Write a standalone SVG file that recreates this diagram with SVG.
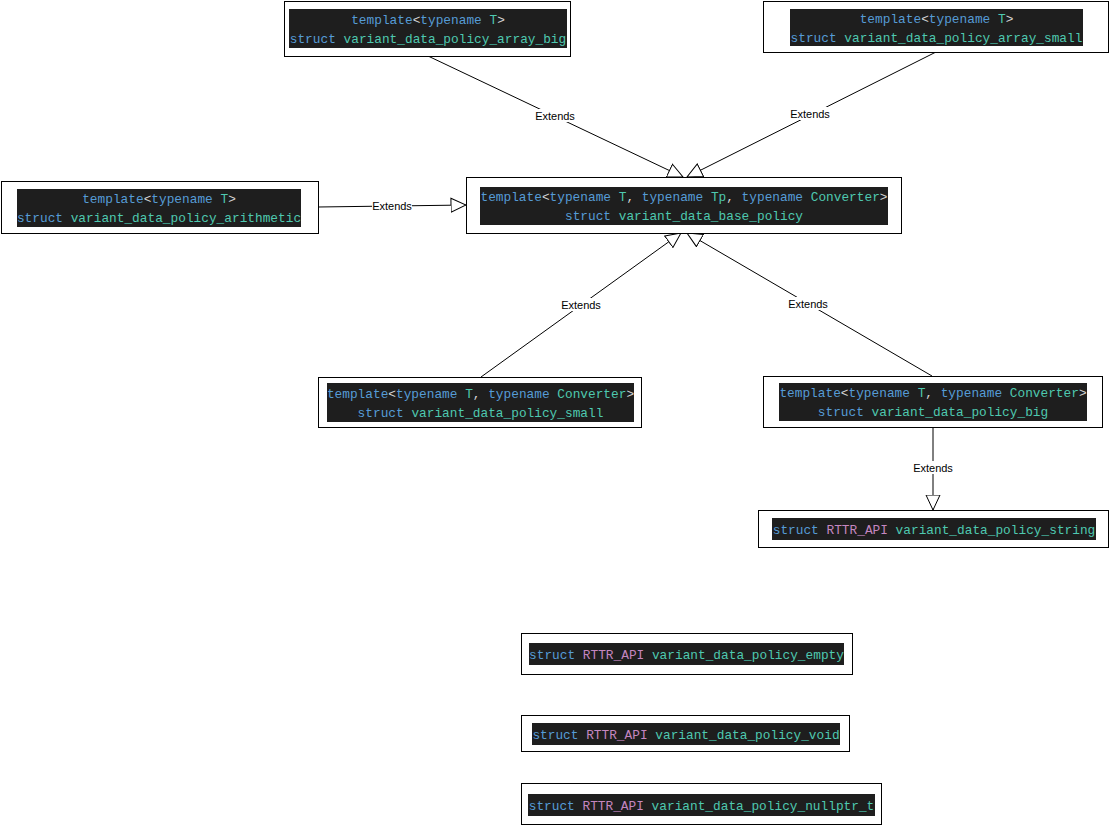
<svg xmlns="http://www.w3.org/2000/svg" width="1110" height="826" viewBox="0 0 1110 826">
<style>
.box{fill:#fff;stroke:#000;stroke-width:1}
.bg{fill:#1e1e1e}
.code{font-family:"Liberation Mono","DejaVu Sans Mono",monospace;font-size:12.8px;text-anchor:middle;fill:#d4d4d4}
.k{fill:#569cd6}
.t{fill:#4ec9b0}
.m{fill:#c586c0}
.p{fill:#d4d4d4}
.edge{stroke:#000;stroke-width:1;fill:none;marker-end:url(#ext)}
.lbl{font-family:"Liberation Sans",Arial,sans-serif;font-size:11px;text-anchor:middle;fill:#000}
.lblbg{fill:#fff}
</style>
<defs>
<marker id="ext" markerUnits="userSpaceOnUse" viewBox="0 0 16 16" refX="15.5" refY="8" markerWidth="16" markerHeight="16" orient="auto">
<path d="M0.5,1 L15.5,8 L0.5,15 Z" fill="#fff" stroke="#000" stroke-width="1"/>
</marker>
</defs>
<rect width="1110" height="826" fill="#fff"/>

<g id="connectors">
<line class="edge" x1="428" y1="56" x2="683" y2="177"/>
<line class="edge" x1="936" y1="52" x2="687" y2="177"/>
<line class="edge" x1="318" y1="207" x2="466" y2="205"/>
<line class="edge" x1="481" y1="377" x2="681" y2="233"/>
<line class="edge" x1="932" y1="376" x2="687" y2="233"/>
<line class="edge" x1="933" y1="427" x2="933" y2="510"/>
<rect class="lblbg" x="535" y="109" width="40" height="13"/>
<text class="lbl" x="555" y="120">Extends</text>
<rect class="lblbg" x="790" y="107" width="40" height="13"/>
<text class="lbl" x="810" y="118">Extends</text>
<rect class="lblbg" x="372" y="199" width="40" height="13"/>
<text class="lbl" x="392" y="210">Extends</text>
<rect class="lblbg" x="561" y="298" width="40" height="13"/>
<text class="lbl" x="581" y="309">Extends</text>
<rect class="lblbg" x="788" y="297" width="40" height="13"/>
<text class="lbl" x="808" y="308">Extends</text>
<rect class="lblbg" x="913" y="461" width="40" height="13"/>
<text class="lbl" x="933" y="472">Extends</text>
</g>

<g id="array_big">
<rect class="box" x="284.5" y="1.5" width="286" height="55"/>
<rect class="bg" x="289" y="9" width="278" height="39"/>
<text class="code" x="428" y="23.5"><tspan class="k">template</tspan>&lt;<tspan class="k">typename</tspan> <tspan class="t">T</tspan>&gt;</text>
<text class="code" x="428" y="42.5"><tspan class="k">struct</tspan> <tspan class="t">variant_data_policy_array_big</tspan></text>
</g>

<g id="array_small">
<rect class="box" x="763.5" y="1.5" width="345" height="51"/>
<rect class="bg" x="790" y="9" width="293" height="37"/>
<text class="code" x="936.5" y="22.5"><tspan class="k">template</tspan>&lt;<tspan class="k">typename</tspan> <tspan class="t">T</tspan>&gt;</text>
<text class="code" x="936.5" y="41.5"><tspan class="k">struct</tspan> <tspan class="t">variant_data_policy_array_small</tspan></text>
</g>

<g id="arithmetic">
<rect class="box" x="1.5" y="181.5" width="317" height="52"/>
<rect class="bg" x="17" y="189" width="284" height="38"/>
<text class="code" x="159" y="202.5"><tspan class="k">template</tspan>&lt;<tspan class="k">typename</tspan> <tspan class="t">T</tspan>&gt;</text>
<text class="code" x="159" y="221.5"><tspan class="k">struct</tspan> <tspan class="t">variant_data_policy_arithmetic</tspan></text>
</g>

<g id="base_policy">
<rect class="box" x="466.5" y="177.5" width="435" height="56"/>
<rect class="bg" x="480" y="187" width="408" height="38"/>
<text class="code" x="684" y="200.5"><tspan class="k">template</tspan>&lt;<tspan class="k">typename</tspan> <tspan class="t">T</tspan>, <tspan class="k">typename</tspan> <tspan class="t">Tp</tspan>, <tspan class="k">typename</tspan> <tspan class="t">Converter</tspan>&gt;</text>
<text class="code" x="684" y="219.5"><tspan class="k">struct</tspan> <tspan class="t">variant_data_base_policy</tspan></text>
</g>

<g id="small">
<rect class="box" x="318.5" y="377.5" width="323" height="50"/>
<rect class="bg" x="327" y="383" width="307" height="39"/>
<text class="code" x="480.5" y="397.5"><tspan class="k">template</tspan>&lt;<tspan class="k">typename</tspan> <tspan class="t">T</tspan>, <tspan class="k">typename</tspan> <tspan class="t">Converter</tspan>&gt;</text>
<text class="code" x="480.5" y="416.5"><tspan class="k">struct</tspan> <tspan class="t">variant_data_policy_small</tspan></text>
</g>

<g id="big">
<rect class="box" x="763.5" y="376.5" width="339" height="51"/>
<rect class="bg" x="779" y="383" width="308" height="38"/>
<text class="code" x="933" y="396.5"><tspan class="k">template</tspan>&lt;<tspan class="k">typename</tspan> <tspan class="t">T</tspan>, <tspan class="k">typename</tspan> <tspan class="t">Converter</tspan>&gt;</text>
<text class="code" x="933" y="415.5"><tspan class="k">struct</tspan> <tspan class="t">variant_data_policy_big</tspan></text>
</g>

<g id="string">
<rect class="box" x="758.5" y="510.5" width="350" height="37"/>
<rect class="bg" x="772" y="518" width="324" height="22"/>
<text class="code" x="934" y="533.5"><tspan class="k">struct</tspan> <tspan class="m">RTTR_API</tspan> <tspan class="t">variant_data_policy_string</tspan></text>
</g>

<g id="empty">
<rect class="box" x="521.5" y="633.5" width="331" height="41"/>
<rect class="bg" x="529" y="643" width="315" height="22"/>
<text class="code" x="686.5" y="658.5"><tspan class="k">struct</tspan> <tspan class="m">RTTR_API</tspan> <tspan class="t">variant_data_policy_empty</tspan></text>
</g>

<g id="void">
<rect class="box" x="521.5" y="715.5" width="328" height="36"/>
<rect class="bg" x="532" y="723" width="308" height="22"/>
<text class="code" x="686" y="738.5"><tspan class="k">struct</tspan> <tspan class="m">RTTR_API</tspan> <tspan class="t">variant_data_policy_void</tspan></text>
</g>

<g id="nullptr_t">
<rect class="box" x="521.5" y="783.5" width="360" height="41"/>
<rect class="bg" x="528" y="794" width="347" height="22"/>
<text class="code" x="701.5" y="809.5"><tspan class="k">struct</tspan> <tspan class="m">RTTR_API</tspan> <tspan class="t">variant_data_policy_nullptr_t</tspan></text>
</g>
</svg>
